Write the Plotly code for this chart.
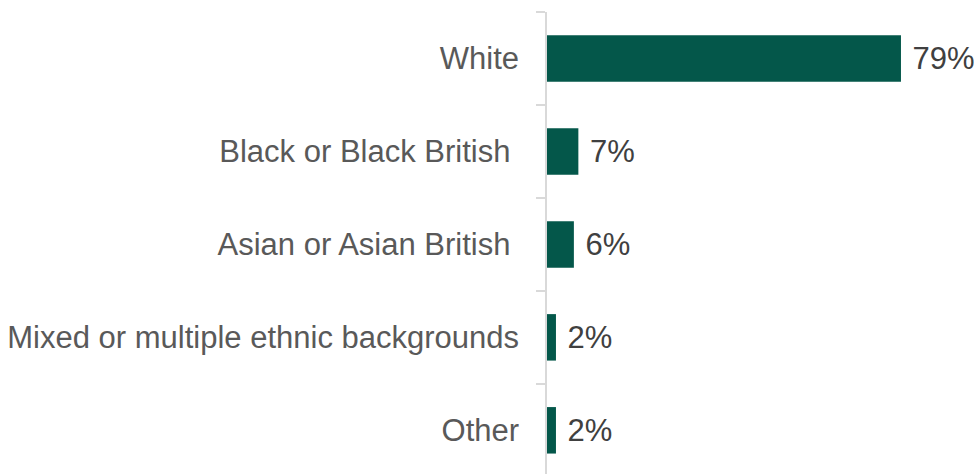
import plotly.graph_objects as go

# Ethnic background breakdown (percent of respondents)
categories = [
    "White",
    "Black or Black British\u00a0",
    "Asian or Asian British\u00a0",
    "Mixed or multiple ethnic backgrounds",
    "Other",
]
values = [79, 7, 6, 2, 2]

bar_color = "#04574A"
axis_color = "#D9D9D9"
font_family = "Liberation Sans, Arial, sans-serif"

fig = go.Figure(
    go.Bar(
        x=values,
        y=categories,
        orientation="h",
        marker=dict(color=bar_color, line=dict(width=0)),
        text=[f"\u00a0{v}%" for v in values],
        textposition="outside",
        constraintext="none",
        textfont=dict(family=font_family, size=31, color="#404040"),
        cliponaxis=False,
        hoverinfo="skip",
    )
)

fig.update_layout(
    width=974,
    height=474,
    margin=dict(l=547, r=0, t=12, b=0),
    paper_bgcolor="white",
    plot_bgcolor="white",
    bargap=0.5,
    showlegend=False,
    font=dict(family=font_family),
)

fig.update_xaxes(
    range=[0, 95.3],
    visible=False,
    showgrid=False,
    zeroline=False,
)

# Bottom band runs slightly past the figure edge
fig.update_yaxes(
    categoryorder="array",
    categoryarray=categories,
    range=[len(categories) - 0.53, -0.5],
    showline=True,
    linecolor=axis_color,
    linewidth=1.5,
    ticks="outside",
    tickson="boundaries",
    ticklen=9,
    tickwidth=1.5,
    tickcolor=axis_color,
    ticklabelstandoff=20,
    tickfont=dict(family=font_family, size=31, color="#595959"),
    showgrid=False,
    zeroline=False,
)

fig.write_html("out.html")
